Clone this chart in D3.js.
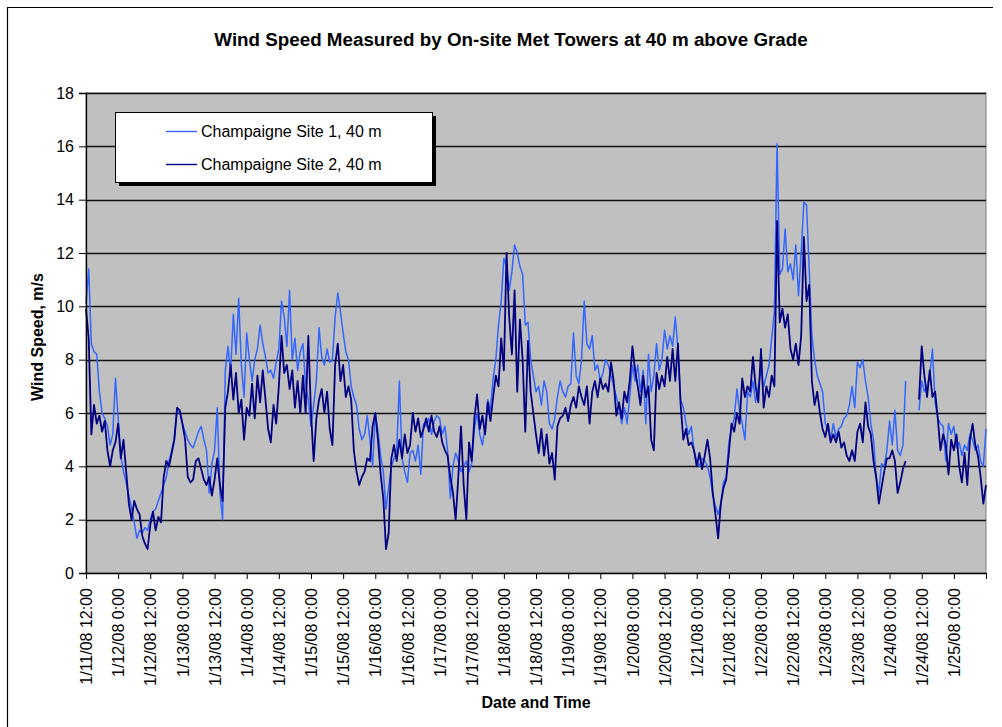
<!DOCTYPE html>
<html>
<head>
<meta charset="utf-8">
<script src="https://cdn.jsdelivr.net/npm/d3@7"></script>
<style>
body { margin: 0; background: #fff; }
text { font-family: Arial, "Liberation Sans", sans-serif; fill: #000; }
</style>
</head>
<body>
<script>
// hourly readings from 1/11/08 12:00 to 1/25/08 12:00 (null = no data)
var site1 = [
  10.1, 11.4, 8.6, 8.3, 8.2, 6.8, 6.0, 5.8, 5.5, 4.8,
  5.2, 7.3, 5.8, 4.4, 3.8, 3.4, 2.9, 2.4, 1.9, 1.3,
  1.6, 1.5, 1.7, 1.6, 2.0, 2.3, 2.4, 2.7, 3.0, 3.3,
  3.6, 4.2, 4.6, 5.1, 6.1, 6.0, 5.6, 5.3, 5.0, 4.8,
  4.7, 5.0, 5.3, 5.5, 5.0, 4.6, 3.0, 4.1, 4.6, 6.2,
  3.0, 2.0, 7.6, 8.5, 7.5, 9.7, 8.2, 10.3, 7.8, 6.6,
  9.0, 8.0, 7.2, 8.0, 8.4, 9.3, 8.6, 8.1, 7.5, 7.6,
  7.3, 7.9, 8.4, 10.2, 9.6, 8.5, 10.6, 8.0, 8.8, 7.6,
  8.3, 8.6, 7.0, 6.5, 5.5, 6.3, 7.2, 9.2, 8.1, 7.8,
  8.4, 7.9, 8.0, 9.6, 10.5, 9.8, 9.0, 8.3, 8.0, 7.0,
  6.6, 6.3, 5.4, 5.0, 5.2, 5.9, 5.0, 4.0, 6.0, 5.3,
  4.4, 3.8, 2.4, 3.2, 4.0, 4.3, 4.6, 7.2, 4.3, 3.8,
  3.4, 4.5, 4.6, 4.2, 4.8, 3.7, 5.6, 5.5, 5.8, 5.2,
  5.7, 5.9, 5.8, 5.2, 5.5, 4.6, 2.8, 4.0, 4.5, 4.2,
  3.8, 4.0, 4.2, 3.8, 4.1, 5.4, 6.0, 5.2, 4.8, 5.5,
  6.5, 6.1, 7.3, 8.0, 9.3, 10.2, 11.8, 11.5, 10.6, 11.3,
  12.3, 12.0, 11.5, 11.2, 9.3, 9.4, 8.0, 7.4, 6.8, 7.0,
  6.3, 7.2, 6.8, 5.6, 5.4, 5.8, 6.6, 7.2, 6.8, 6.6,
  7.0, 7.1, 9.0, 7.4, 7.1, 8.0, 10.2, 8.6, 8.4, 8.9,
  7.6, 7.8, 7.2, 7.5, 8.0, 7.8, 7.4, 7.0, 6.6, 6.2,
  5.6, 6.2, 5.6, 6.6, 7.8, 7.2, 7.8, 6.8, 7.6, 5.6,
  8.2, 6.8, 7.4, 8.6, 7.6, 8.0, 9.1, 8.4, 8.9, 8.5,
  9.6, 8.4, 6.5, 6.2, 5.6, 5.2, 5.5, 4.6, 4.2, 4.0,
  4.3, 4.2, 4.0, 3.6, 2.9, 2.5, 2.2, 2.6, 3.4, 3.6,
  4.9, 5.4, 5.8, 6.9, 6.1, 5.6, 5.0, 6.8, 6.6, 7.2,
  6.4, 7.0, 7.6, 7.0, 7.4, 7.8, 8.8, 9.8, 16.1, 11.2,
  11.4, 12.9, 11.3, 11.6, 11.0, 12.3, 10.4, 12.0, 13.9, 13.8,
  11.4, 8.9, 8.0, 7.4, 7.1, 6.8, 5.6, 5.4, 5.0, 5.6,
  5.1, 5.4, 5.5, 5.8, 5.9, 6.3, 7.0, 6.2, 7.9, 7.7,
  8.0, 7.2, 6.6, 5.6, 5.0, 3.6, 3.0, 4.1, 4.0, 4.6,
  5.7, 4.8, 6.1, 4.6, 4.4, 4.8, 7.2, null, null, null,
  null, 6.1, 7.2, 6.8, 7.0, 7.4, 8.4, 6.4, 5.8, 5.6,
  5.5, 4.2, 5.6, 5.2, 5.5, 4.7, 4.9, 4.4, 4.8, 4.6,
  5.2, 5.0, 4.6, 4.8, 4.2, 4.0, 5.4
]

var site2 = [
  9.9, 8.8, 5.2, 6.3, 5.6, 5.9, 5.3, 5.7, 4.6, 4.0,
  4.6, 4.9, 5.6, 4.3, 5.0, 3.8, 2.6, 2.0, 2.7, 2.4,
  2.2, 1.4, 1.1, 0.9, 1.8, 2.3, 1.6, 2.1, 1.9, 3.6,
  4.2, 4.0, 4.5, 5.0, 6.2, 6.1, 5.6, 5.0, 3.6, 3.4,
  3.5, 4.2, 4.3, 3.9, 3.5, 3.3, 3.6, 2.9, 3.5, 4.3,
  3.3, 2.7, 6.2, 6.8, 7.8, 6.5, 7.5, 6.0, 6.5, 5.0,
  6.2, 5.9, 7.1, 5.8, 7.4, 6.4, 7.6, 6.5, 5.4, 4.9,
  6.3, 5.6, 7.0, 8.9, 7.5, 7.8, 6.9, 7.6, 6.2, 7.2,
  6.0, 7.4, 6.0, 8.9, 6.0, 4.2, 5.8, 6.5, 6.9, 6.0,
  6.8, 5.4, 4.8, 7.8, 8.6, 7.2, 7.8, 6.6, 7.0, 6.5,
  4.6, 3.8, 3.3, 3.6, 3.8, 4.3, 4.2, 5.5, 6.0, 5.0,
  3.7, 2.8, 0.9, 1.5, 4.3, 4.8, 4.2, 5.0, 4.3, 5.2,
  4.5, 4.8, 6.0, 5.3, 5.8, 5.1, 5.4, 5.8, 5.3, 5.9,
  5.3, 5.1, 5.5, 4.9, 4.6, 4.4, 3.6, 3.0, 2.0, 3.6,
  5.5, 3.3, 2.0, 4.9, 4.2, 5.8, 6.7, 5.4, 5.9, 5.2,
  6.4, 5.7, 6.6, 7.4, 7.0, 8.8, 7.6, 12.0, 9.6, 8.2,
  10.6, 6.8, 9.5, 8.0, 5.3, 8.7, 6.8, 6.0, 5.2, 4.5,
  5.4, 4.4, 5.2, 4.1, 4.5, 3.5, 5.5, 5.8, 5.9, 6.2,
  5.7, 6.3, 6.6, 6.2, 7.0, 6.6, 6.3, 7.0, 5.6, 6.8,
  7.2, 6.6, 7.3, 6.9, 7.1, 6.8, 7.9, 7.2, 5.9, 6.4,
  5.8, 6.8, 6.4, 7.2, 8.5, 7.6, 7.0, 6.3, 7.4, 6.6,
  7.0, 5.0, 4.6, 7.5, 6.9, 7.4, 7.0, 8.1, 7.2, 8.4,
  7.2, 8.6, 6.3, 5.0, 5.4, 4.8, 4.9, 4.6, 4.0, 4.5,
  3.9, 4.4, 5.0, 4.3, 3.0, 2.2, 1.3, 2.6, 3.2, 3.5,
  4.5, 5.6, 5.3, 6.0, 5.6, 7.3, 6.6, 7.0, 6.8, 8.1,
  7.0, 6.4, 8.4, 6.2, 7.0, 6.6, 7.4, 7.0, 13.2, 9.4,
  9.9, 9.2, 9.7, 8.4, 8.0, 8.6, 7.8, 8.9, 12.6, 10.2,
  10.8, 7.2, 6.3, 6.8, 6.0, 5.4, 5.1, 5.6, 4.9, 5.2,
  4.9, 5.3, 4.7, 4.9, 4.4, 4.2, 4.6, 4.2, 5.3, 5.6,
  4.9, 6.4, 5.5, 5.2, 4.2, 3.6, 2.6, 3.2, 3.8, 4.3,
  4.3, 4.6, 4.2, 3.0, 3.4, 3.9, 4.2, null, null, null,
  null, 6.5, 8.5, 7.4, 6.6, 7.6, 6.6, 6.8, 5.8, 4.6,
  5.2, 4.8, 3.7, 5.0, 4.6, 5.2, 4.0, 3.4, 4.5, 3.3,
  5.0, 5.6, 4.8, 4.4, 3.6, 2.6, 3.3
]

var seriesNames = ['Champaigne Site 1, 40 m', 'Champaigne Site 2, 40 m']
var seriesColors = ['#3366ff', '#000080']
var seriesWidths = [1.5, 1.8]

var tickLabels = ['1/11/08 12:00', '1/12/08 0:00', '1/12/08 12:00', '1/13/08 0:00', '1/13/08 12:00',
  '1/14/08 0:00', '1/14/08 12:00', '1/15/08 0:00', '1/15/08 12:00', '1/16/08 0:00', '1/16/08 12:00',
  '1/17/08 0:00', '1/17/08 12:00', '1/18/08 0:00', '1/18/08 12:00', '1/19/08 0:00', '1/19/08 12:00',
  '1/20/08 0:00', '1/20/08 12:00', '1/21/08 0:00', '1/21/08 12:00', '1/22/08 0:00', '1/22/08 12:00',
  '1/23/08 0:00', '1/23/08 12:00', '1/24/08 0:00', '1/24/08 12:00', '1/25/08 0:00']
var yTicks = [0, 2, 4, 6, 8, 10, 12, 14, 16, 18]

var startTime = new Date(2008, 0, 11, 12, 0)
var endTime = new Date(2008, 0, 25, 12, 0)

var margin = {top: 93, right: 16, bottom: 154, left: 86}
  , width = 1002 - margin.left - margin.right
  , height = 727 - margin.top - margin.bottom

var xScale = d3.scaleTime().domain([startTime, endTime]).range([0, width])
var yScale = d3.scaleLinear().domain([0, 18]).range([height, 0])

var root = d3.select('body').append('svg')
    .attr('width', 1002)
    .attr('height', 727)

// outer chart border (only top and left edges show in the frame)
root.append('path')
    .attr('d', 'M7.5,727V7.5H993')
    .attr('fill', 'none')
    .attr('stroke', '#000')
    .attr('stroke-width', 1.2)

root.append('text')
    .attr('x', 511)
    .attr('y', 46)
    .attr('text-anchor', 'middle')
    .attr('font-weight', 'bold')
    .attr('font-size', '18.8px')
    .text('Wind Speed Measured by On-site Met Towers at 40 m above Grade')

var svg = root.append('g')
    .attr('transform', 'translate(' + margin.left + ',' + margin.top + ')')

svg.append('rect')
    .attr('width', width)
    .attr('height', height)
    .attr('fill', '#c0c0c0')
    .attr('stroke', '#808080')

// gridlines
svg.append('g')
    .selectAll('line')
    .data(yTicks.slice(1))
    .enter()
    .append('line')
    .attr('x1', 0).attr('x2', width)
    .attr('y1', function(d) { return Math.round(yScale(d)) + 0.5 })
    .attr('y2', function(d) { return Math.round(yScale(d)) + 0.5 })
    .attr('stroke', '#111')
    .attr('stroke-width', 1.3)

// series lines
var hours = d3.range(site1.length).map(function(i) { return d3.timeHour.offset(startTime, i) })
var series = [site1, site2]
for (let i = 0; i < series.length; i++) {
    svg.append('path')
        .datum(series[i])
        .attr('fill', 'none')
        .attr('stroke', seriesColors[i])
        .attr('stroke-width', seriesWidths[i])
        .attr('stroke-linejoin', 'round')
        .attr('d', d3.line()
            .defined(function(d) { return d !== null })
            .x(function(d, j) { return xScale(hours[j]) })
            .y(function(d) { return yScale(d) }))
}

// y axis
var yAxis = svg.append('g')
    .call(d3.axisLeft(yScale).tickValues(yTicks).tickSize(7).tickPadding(5).tickFormat(d3.format('d')))
yAxis.select('.domain').attr('stroke', '#000').attr('stroke-width', 1.3)
yAxis.selectAll('.tick line').attr('stroke', '#000')
yAxis.selectAll('text').attr('font-size', '16px').attr('font-family', 'Arial, "Liberation Sans", sans-serif')

// x axis
var tickTimes = d3.range(0, 29).map(function(i) { return d3.timeHour.offset(startTime, i * 12) })
var xAxis = svg.append('g')
    .attr('transform', 'translate(0,' + height + ')')
    .call(d3.axisBottom(xScale).tickValues(tickTimes).tickSize(6).tickSizeOuter(0)
        .tickFormat(function(d, i) { return tickLabels[i] || '' }))
xAxis.select('.domain').attr('stroke', '#000').attr('stroke-width', 1.3)
xAxis.selectAll('.tick line').attr('stroke', '#000')
xAxis.selectAll('text')
    .attr('font-size', '16px')
    .attr('font-family', 'Arial, "Liberation Sans", sans-serif')
    .attr('text-anchor', 'end')
    .attr('transform', 'rotate(-90)')
    .attr('x', -15)
    .attr('y', 0)
    .attr('dy', '0.35em')

// axis titles
root.append('text')
    .attr('x', margin.left + width / 2)
    .attr('y', 708)
    .attr('text-anchor', 'middle')
    .attr('font-weight', 'bold')
    .attr('font-size', '16px')
    .text('Date and Time')

root.append('text')
    .attr('transform', 'translate(43,' + (margin.top + height / 2 + 4) + ') rotate(-90)')
    .attr('text-anchor', 'middle')
    .attr('font-weight', 'bold')
    .attr('font-size', '16px')
    .text('Wind Speed, m/s')

// legend
var legend = root.append('g').attr('transform', 'translate(115,112)')
legend.append('rect')
    .attr('x', 4).attr('y', 4)
    .attr('width', 317).attr('height', 70)
    .attr('fill', '#000')
legend.append('rect')
    .attr('x', 0.5).attr('y', 0.5)
    .attr('width', 317).attr('height', 70)
    .attr('fill', '#fff')
    .attr('stroke', '#000')
for (let i = 0; i < seriesNames.length; i++) {
    legend.append('line')
        .attr('x1', 51).attr('x2', 82)
        .attr('y1', 19.5 + i * 33).attr('y2', 19.5 + i * 33)
        .attr('stroke', seriesColors[i])
        .attr('stroke-width', 1.4)
    legend.append('text')
        .attr('x', 86)
        .attr('y', 25 + i * 33)
        .attr('font-size', '16px')
        .text(seriesNames[i])
}
</script>
</body>
</html>
